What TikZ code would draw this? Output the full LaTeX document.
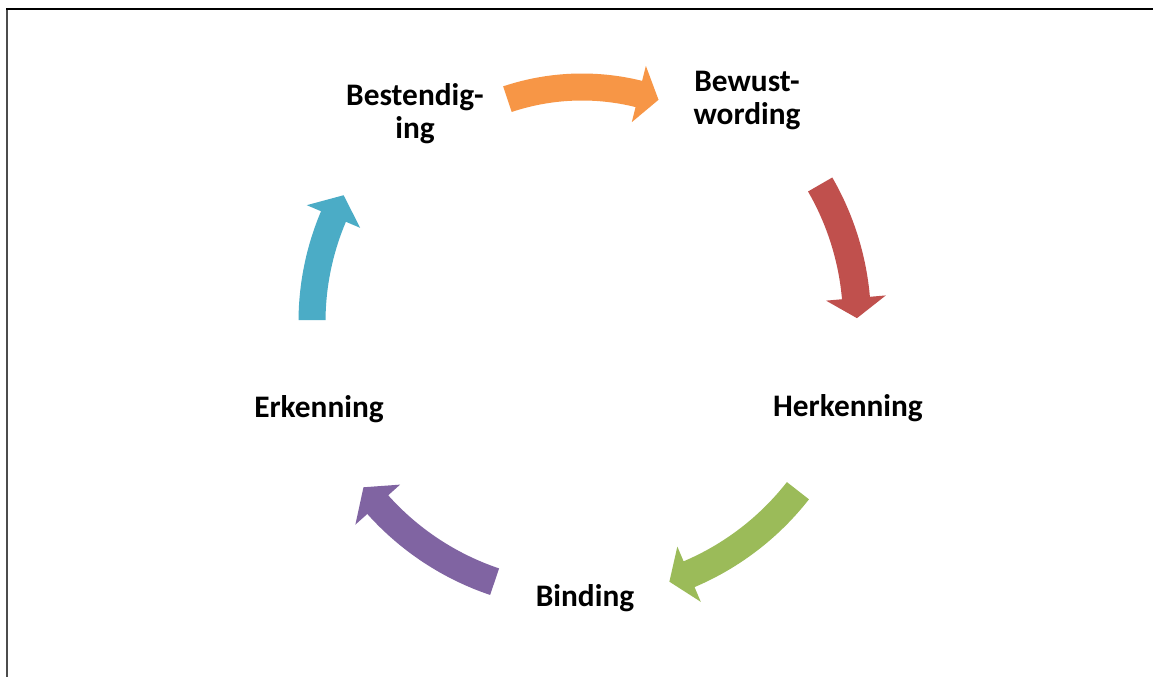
\documentclass[tikz,border=0pt]{standalone}
\usepackage{fontspec}
\setmainfont{Carlito}
\definecolor{cOrange}{HTML}{F79646}
\definecolor{cRed}{HTML}{C0504D}
\definecolor{cGreen}{HTML}{9BBB59}
\definecolor{cPurple}{HTML}{8064A2}
\definecolor{cTeal}{HTML}{4BACC6}
\newcommand\cycarrow[7]{% color, radius, tail angle, head-base angle, tip angle, half band, half head
  \pgfmathsetmacro\cyRo{#2+#6}\pgfmathsetmacro\cyRi{#2-#6}%
  \pgfmathsetmacro\cyHo{#2+#7}\pgfmathsetmacro\cyHi{#2-#7}%
  \fill[#1] (#3:\cyRo) arc[start angle=#3,end angle=#4,radius=\cyRo]
    -- (#4:\cyHo) -- (#5:#2) -- (#4:\cyHi) -- (#4:\cyRi)
    arc[start angle=#4,end angle=#3,radius=\cyRi] -- cycle;}
\tikzset{lbl/.style={font=\fontsize{23.5}{24.9}\selectfont\bfseries, text=black, inner sep=0pt, anchor=base, align=center}}
\begin{document}
\begin{tikzpicture}[x=0.75pt,y=-0.75pt]
\useasboundingbox (0,0) rectangle (1153,677);
\fill[white] (0,0) rectangle (1153,677);
\draw[line width=1.5pt, black!70] (7,677) -- (7,9);
\draw[line width=1.5pt, black] (6.25,9) -- (1153,9);
\coordinate (ctr) at (582,322);
\node[lbl] (bestendiging) at (415,138.3) {Bestendig-\\ing};
\node[lbl] (bewustwording) at (747,124.5) {Bewust-\\wording};
\node[lbl] (herkenning) at (848,416.7) {Herkenning};
\node[lbl] (binding) at (585,606.7) {Binding};
\node[lbl] (erkenning) at (319,417) {Erkenning};
\begin{scope}[shift={(ctr)}]
\cycarrow{cOrange}{235}{-108.5}{-76}{-71}{13.5}{29}
\cycarrow{cRed}{275}{-30}{-5}{-0.8}{14}{30}
\cycarrow{cGreen}{274}{38}{67}{71.4}{14}{30}
\cycarrow{cPurple}{274}{108.6}{138.2}{142.9}{14}{30}
\cycarrow{cTeal}{270}{180.4}{203}{208}{13.5}{29}
\end{scope}
\end{tikzpicture}
\end{document}
